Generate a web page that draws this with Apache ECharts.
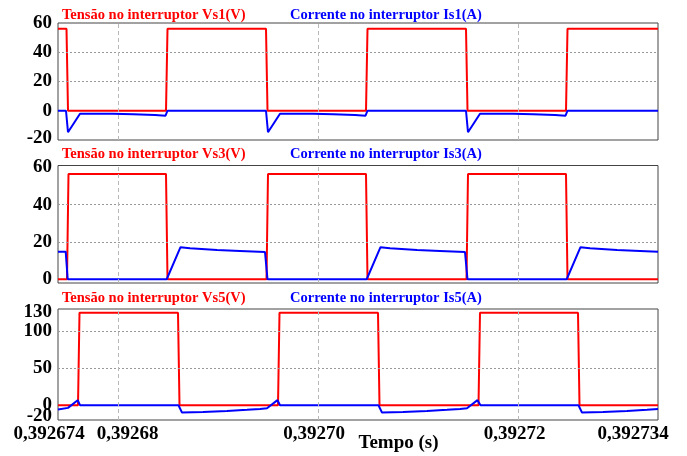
<!DOCTYPE html>
<html>
<head>
<meta charset="utf-8">
<title>Tensão e corrente nos interruptores</title>
<script src="https://cdn.jsdelivr.net/npm/echarts@6.0.0/dist/echarts.min.js"></script>
<style>
  html, body { margin: 0; padding: 0; background: #fff; }
  #chart { width: 687px; height: 456px; }
</style>
</head>
<body>
<div id="chart"></div>
<script>
// tempo em microssegundos a partir de 0,392674 s
var xTickValues = [0, 6, 26, 46, 60];
var xTickLabels = ['0,392674', '0,39268', '0,39270', '0,39272', '0,392734'];
var xGridValues = [6, 26, 46];

var voltageNames = ['Tensão no interruptor Vs1(V)', 'Tensão no interruptor Vs3(V)', 'Tensão no interruptor Vs5(V)'];
var currentNames = ['Corrente no interruptor Is1(A)', 'Corrente no interruptor Is3(A)', 'Corrente no interruptor Is5(A)'];

var yTicks1 = [-20, 0, 20, 40, 60];
var yTicks3 = [0, 20, 40, 60];
var yTicks5 = [-20, 0, 50, 100, 130];
var yGrid1 = [20, 40];
var yGrid3 = [20, 40];
var yGrid5 = [50, 100];

var vs1 = [[0, 56], [0.85, 56], [1.0, 0], [10.8, 0], [10.95, 56], [20.8, 56], [20.95, 0], [30.8, 0],
  [30.95, 56], [40.8, 56], [40.95, 0], [50.8, 0], [50.95, 56], [60, 56]];
var is1 = [[0, 0], [0.8, 0], [1.0, -14.7], [2.2, -2], [5.5, -2], [5.6, -2.4], [7.5, -2.4], [7.6, -2.9],
  [9.7, -2.9], [9.8, -3.4], [10.75, -3.4], [10.95, 0], [20.8, 0], [21.0, -14.7], [22.2, -2], [25.5, -2],
  [25.6, -2.4], [27.5, -2.4], [27.6, -2.9], [29.7, -2.9], [29.8, -3.4], [30.75, -3.4], [30.95, 0],
  [40.8, 0], [41.0, -14.7], [42.2, -2], [45.5, -2], [45.6, -2.4], [47.5, -2.4], [47.6, -2.9],
  [49.7, -2.9], [49.8, -3.4], [50.75, -3.4], [50.95, 0], [60, 0]];

var vs3 = [[0, 0], [0.9, 0], [1.05, 56.5], [10.8, 56.5], [10.95, 0], [20.85, 0], [21.0, 56.5], [30.8, 56.5],
  [30.95, 0], [40.85, 0], [41.0, 56.5], [50.8, 56.5], [50.95, 0], [60, 0]];
var is3 = [[0, 14.8], [0.77, 14.8], [0.97, 0], [10.87, 0], [12.25, 17.2], [13.2, 16.6], [15.9, 15.7],
  [18.2, 15.2], [20.7, 14.6], [20.95, 0], [30.87, 0], [32.25, 17.2], [33.2, 16.6], [35.9, 15.7],
  [38.2, 15.2], [40.7, 14.6], [40.95, 0], [50.87, 0], [52.25, 17.2], [53.2, 16.6], [55.9, 15.7],
  [58.2, 15.2], [60, 14.8]];

var vs5 = [[0, 0], [2.0, 0], [2.15, 125], [12.0, 125], [12.15, 0], [22.0, 0], [22.15, 125], [32.0, 125],
  [32.15, 0], [42.05, 0], [42.2, 125], [52.0, 125], [52.15, 0], [60, 0]];
var is5 = [[0, -5.8], [1.0, -3.6], [1.97, 6.8], [2.2, 0], [12.05, 0], [12.4, -10], [14.5, -9.1],
  [16.9, -7.7], [18.9, -6.3], [20.2, -5], [20.9, -4.1], [21.95, 6.8], [22.2, 0], [32.05, 0], [32.4, -10],
  [34.5, -9.1], [36.9, -7.7], [38.9, -6.3], [40.2, -5], [40.9, -4.1], [41.95, 6.8], [42.25, 0],
  [52.05, 0], [52.4, -10], [54.5, -9.1], [56.9, -7.7], [58.9, -6.3], [60, -5.2]];

(function () {
  var FONT = 'Liberation Serif';
  var chart = echarts.init(document.getElementById('chart'), null, { renderer: 'canvas' });

  var grids = [
    { left: 58, right: 29, top: 23, height: 117 },
    { left: 58, right: 29, top: 165.5, height: 117.5 },
    { left: 58, right: 29, top: 309, height: 111 }
  ];
  var yRanges = [[-20, 60], [-2, 61], [-20, 130]];
  var yTicks = [yTicks1, yTicks3, yTicks5];
  var yGrids = [yGrid1, yGrid3, yGrid5];
  var voltages = [vs1, vs3, vs5];
  var currents = [is1, is3, is5];
  var titleTops = [7.5, 147, 291];
  var last = grids.length - 1;
  // deslocamento horizontal dos rótulos do eixo x
  var xLabelShift = [-9, 9.5, -4, -3.5, -25];

  function labelStyle(padding) {
    return {
      fontFamily: FONT,
      fontWeight: 'bold',
      fontSize: 19,
      color: '#000',
      padding: padding
    };
  }

  var rich = {};
  xLabelShift.forEach(function (s, i) {
    rich['s' + i] = labelStyle(s > 0 ? [0, 0, 0, 2 * s] : [0, -2 * s, 0, 0]);
  });

  // rótulos do eixo y: 'u' sobe um pouco, 'd' desce um pouco
  var yRich = {
    n: labelStyle([0, 0, 0, 0]),
    u: labelStyle([0, 0, 8, 0]),
    u2: labelStyle([0, 0, 4, 0]),
    d: labelStyle([7, 0, 0, 0])
  };

  var gridOpts = grids.map(function (g) {
    return {
      left: g.left,
      right: g.right,
      top: g.top,
      height: g.height,
      containLabel: false,
      outerBoundsMode: 'none',
      show: true,
      borderColor: '#444',
      borderWidth: 1
    };
  });

  function bareAxis(type, gridIndex, min, max, position) {
    return {
      type: type,
      gridIndex: gridIndex,
      position: position,
      offset: 0,
      min: min,
      max: max,
      axisLine: { show: false },
      axisTick: { show: false },
      splitLine: { show: false },
      axisLabel: { show: false }
    };
  }

  // eixos x principais (sem rótulos)
  var xAxes = grids.map(function (g, i) {
    var ax = bareAxis('value', i, 0, 60, 'bottom');
    if (i === last) {
      ax.name = 'Tempo (s)';
      ax.nameLocation = 'middle';
      ax.nameGap = 14;
      ax.nameMoveOverlap = false;
      ax.nameTextStyle = {
        fontFamily: FONT,
        fontWeight: 'bold',
        fontSize: 19,
        color: '#000',
        padding: [0, 0, 0, 81]
      };
    }
    return ax;
  });
  // rótulos do tempo em dois eixos para não se esconderem
  [0, 1].forEach(function (part) {
    var ax = bareAxis('value', last, 0, 60, 'bottom');
    ax.axisLabel = {
      show: true,
      customValues: xTickValues.filter(function (v, k) { return k % 2 === part; }),
      margin: 5,
      formatter: function (v) {
        var k = xTickValues.indexOf(v);
        if (k < 0) return '';
        return '{s' + k + '|' + xTickLabels[k] + '}';
      },
      rich: rich
    };
    xAxes.push(ax);
  });

  function yLabel(i, values) {
    return {
      show: true,
      customValues: values,
      margin: 6,
      formatter: function (v) {
        var key = 'n';
        if (i === last && v === yRanges[i][0]) key = 'u';
        if (i === 0 && v === yRanges[i][0]) key = 'u2';
        if (i === last && v === yRanges[i][1]) key = 'd';
        return '{' + key + '|' + v + '}';
      },
      rich: yRich
    };
  }

  var yAxes = grids.map(function (g, i) {
    var ax = bareAxis('value', i, yRanges[i][0], yRanges[i][1], 'left');
    var values = yTicks[i];
    if (i === last) {
      values = values.filter(function (v) { return v !== yRanges[i][0] && v !== yRanges[i][1]; });
    }
    ax.axisLabel = yLabel(i, values);
    return ax;
  });
  // extremos do painel de baixo num eixo à parte
  var edgeAxis = bareAxis('value', last, yRanges[last][0], yRanges[last][1], 'left');
  edgeAxis.axisLabel = yLabel(last, yTicks[last].filter(function (v) {
    return v === yRanges[last][0] || v === yRanges[last][1];
  }));
  yAxes.push(edgeAxis);

  var titles = [];
  var series = [];
  grids.forEach(function (g, i) {
    titles.push({
      text: voltageNames[i],
      left: 62,
      top: titleTops[i],
      padding: 0,
      textStyle: { fontFamily: FONT, fontWeight: 'bold', fontSize: 14.5, color: '#ff0000' }
    });
    titles.push({
      text: currentNames[i],
      left: 290,
      top: titleTops[i],
      padding: 0,
      textStyle: { fontFamily: FONT, fontWeight: 'bold', fontSize: 14.5, color: '#0000ff' }
    });

    var lines = [];
    yGrids[i].forEach(function (y) {
      lines.push({ yAxis: y, lineStyle: { type: [2, 2], color: '#999', width: 1 } });
    });
    xGridValues.forEach(function (x) {
      lines.push({ xAxis: x, lineStyle: { type: [4, 3], color: '#b8b8b8', width: 1 } });
    });

    series.push({
      type: 'line',
      xAxisIndex: i,
      yAxisIndex: i,
      data: [],
      z: 1,
      silent: true,
      markLine: {
        silent: true,
        symbol: 'none',
        label: { show: false },
        animation: false,
        data: lines
      }
    });
    series.push({
      name: voltageNames[i],
      type: 'line',
      xAxisIndex: i,
      yAxisIndex: i,
      data: voltages[i],
      showSymbol: false,
      symbol: 'none',
      z: 2,
      lineStyle: { color: '#ff0000', width: 2 },
      itemStyle: { color: '#ff0000' }
    });
    series.push({
      name: currentNames[i],
      type: 'line',
      xAxisIndex: i,
      yAxisIndex: i,
      data: currents[i],
      showSymbol: false,
      symbol: 'none',
      z: 3,
      lineStyle: { color: '#0000ff', width: 2 },
      itemStyle: { color: '#0000ff' }
    });
  });

  chart.setOption({
    animation: false,
    backgroundColor: '#fff',
    title: titles,
    grid: gridOpts,
    xAxis: xAxes,
    yAxis: yAxes,
    series: series
  });
})();
</script>
</body>
</html>
